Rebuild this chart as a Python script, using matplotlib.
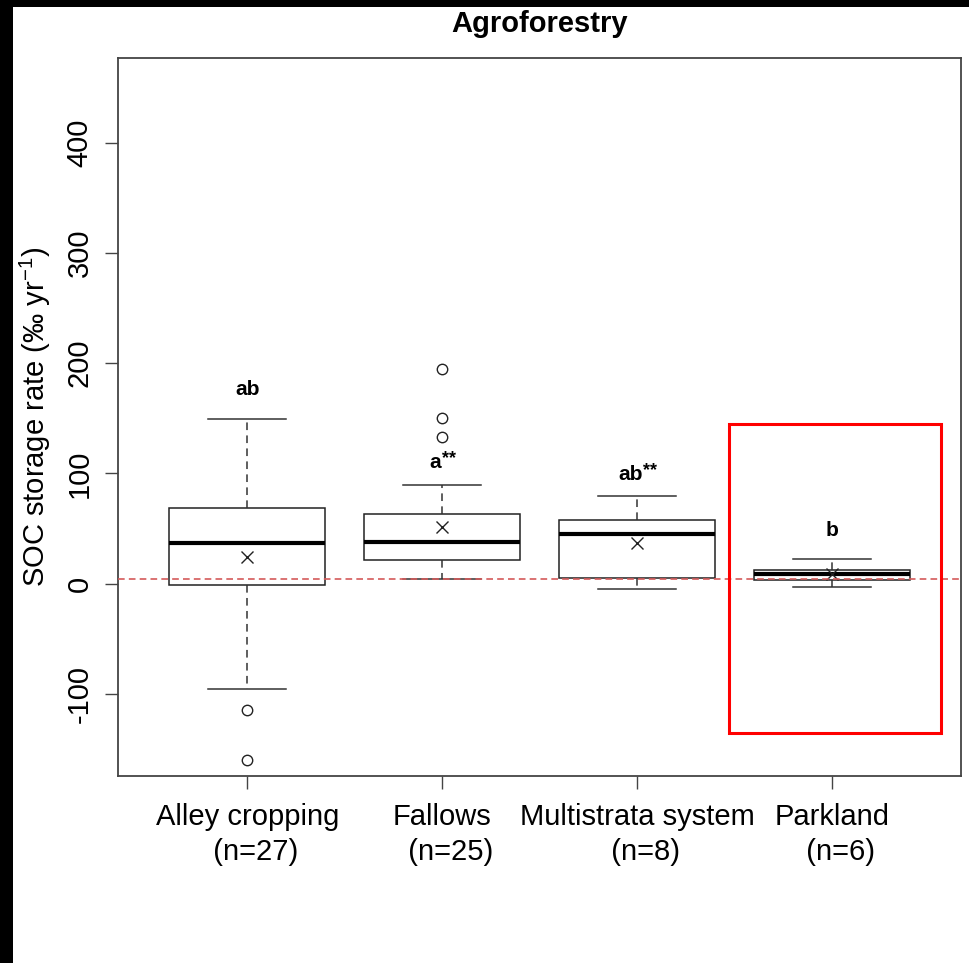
import matplotlib
matplotlib.use("Agg")
import matplotlib.pyplot as plt
from matplotlib.patches import Rectangle

plt.rcParams['font.family'] = ['Liberation Sans', 'DejaVu Sans']
plt.rcParams['mathtext.fontset'] = 'custom'
plt.rcParams['mathtext.rm'] = 'Liberation Sans'
plt.rcParams['mathtext.it'] = 'Liberation Sans:italic'

# values
categories = ["Alley cropping", "Fallows", "Multistrata system", "Parkland"]
n_obs = [27, 25, 8, 6]
q1 = [-1.2, 21.5, 5.2, 3.6]
median = [37.2, 37.8, 45.4, 8.5]
q3 = [68.9, 63.2, 57.5, 12.4]
whisker_low = [-95.8, 4.3, -4.5, -3.3]
whisker_high = [149.4, 89.8, 79.8, 22.4]
means = [24.5, 51.7, 36.6, 8.5]
outliers = [[-114.6, -160.0], [195.0, 150.0, 132.8], [], []]
letters = ["ab", "a", "ab", "b"]
stars = ["", "**", "**", ""]
letter_y = [171.5, 104.7, 93.9, 43.6]
ref_rate = 4  # 4 per mille line
yticks = [-100, 0, 100, 200, 300, 400]
ytick_labels = ["-100", "0", "100", "200", "300", "400"]
highlight = (3.47, -135.7, 4.557, 144.6)  # x0, y0, x1, y1 of the red frame

fig = plt.figure(figsize=(9.7, 9.63), dpi=100)
ax = fig.add_axes([0.1216, 0.1945, 0.8691, 0.7453])

stats = []
for i, name in enumerate(categories):
    stats.append(dict(label=name, q1=q1[i], med=median[i], q3=q3[i],
                      whislo=whisker_low[i], whishi=whisker_high[i],
                      mean=means[i], fliers=outliers[i]))

positions = list(range(1, len(categories) + 1))
ax.bxp(stats, positions=positions, widths=0.8, showmeans=True, patch_artist=True,
       boxprops=dict(facecolor='white', edgecolor='#222222', linewidth=1.1),
       medianprops=dict(color='black', linewidth=3.0),
       whiskerprops=dict(color='#333333', linewidth=1.1, linestyle=(0, (5, 3.5))),
       capprops=dict(color='#333333', linewidth=1.1),
       flierprops=dict(marker='o', markersize=7.5, markerfacecolor='none',
                       markeredgecolor='#222222', markeredgewidth=1.0),
       meanprops=dict(marker='x', markersize=8, markeredgecolor='#222222',
                      markeredgewidth=1.0))

ax.axhline(ref_rate, color='#d45a5a', linewidth=1.2, linestyle=(0, (4, 2.5)), zorder=4)

for x, lab, st, y in zip(positions, letters, stars, letter_y):
    shift = -0.035 if st else 0.0
    t = ax.text(x + shift, y, lab, ha='center', va='baseline', fontsize=15,
                fontweight='bold')
    if st:
        ax.annotate(st, xy=(1.0, 1.0), xycoords=t, xytext=(0.5, 2.0),
                    textcoords='offset points', ha='left', va='top',
                    fontsize=13, fontweight='bold')

x0, y0, x1, y1 = highlight
ax.add_patch(Rectangle((x0, y0), x1 - x0, y1 - y0, fill=False, edgecolor='red',
                       linewidth=2.2, zorder=6))

ax.set_xlim(0.337, 4.66)
ax.set_ylim(-174.2, 476.8)
ax.set_xticks(positions)
ax.set_xticklabels([f"{c}\n  (n={n})" for c, n in zip(categories, n_obs)],
                   fontsize=21, linespacing=1.32)
ax.set_yticks(yticks)
ax.set_yticklabels(ytick_labels, fontsize=21, rotation=90, va='center')
ax.tick_params(axis='both', length=9.4, width=1.0, color='#444444')
ax.tick_params(axis='x', pad=10)
ax.tick_params(axis='y', pad=8)
for sp in ax.spines.values():
    sp.set_color('#444444')
    sp.set_linewidth(1.3)

fig.text(35 / 970, 1 - 417 / 963, "SOC storage rate (‰ yr$^{-1}$)",
         rotation=90, ha='center', va='center', fontsize=21)
fig.text(540 / 970, 1 - 24 / 963, "Agroforestry", ha='center', va='center',
         fontsize=21, fontweight='bold')

# black frame strips at the left and top edge of the reference
fig.patches.append(Rectangle((0, 0), 13 / 970, 1, transform=fig.transFigure,
                             facecolor='black', edgecolor='none'))
fig.patches.append(Rectangle((0, 1 - 7 / 963), 1, 7 / 963, transform=fig.transFigure,
                             facecolor='black', edgecolor='none'))

fig.savefig("out.png", dpi=100, facecolor='white')
